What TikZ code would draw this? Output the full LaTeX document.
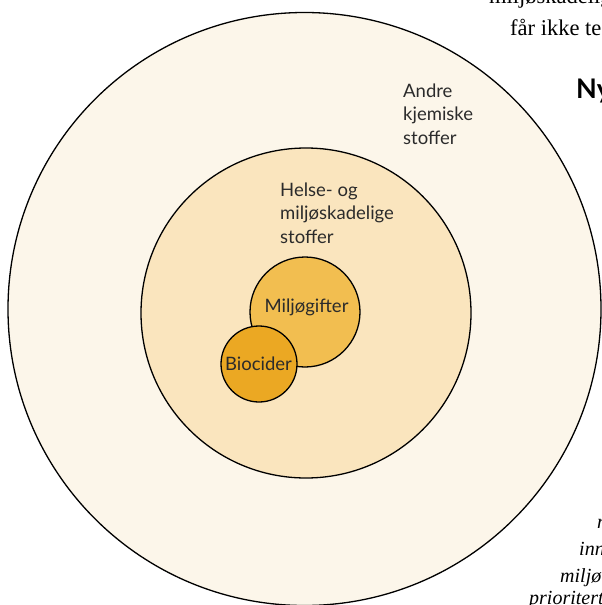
\documentclass[tikz,border=0pt]{standalone}
\usepackage{fontspec}
\setmainfont{Liberation Serif}
\newfontfamily\labelfont{Lato}
\newfontfamily\headfont{Lato}
\definecolor{outerfill}{HTML}{FCF6EA}
\definecolor{midfill}{HTML}{FAE5BE}
\definecolor{miljofill}{HTML}{F2BE50}
\definecolor{biofill}{HTML}{EBA823}
\definecolor{labelcol}{HTML}{2B2B2B}
\tikzset{
  ring/.style={draw=black, line width=1.3pt},
  lbl/.style={text=labelcol, font=\labelfont\fontsize{18.5}{23.5}\selectfont, inner sep=0pt},
  pagetext/.style={text=black, inner sep=0pt, anchor=base west, font=\fontsize{22.5}{25}\selectfont},
  pageital/.style={pagetext, font=\itshape\fontsize{20}{25}\selectfont}
}
\begin{document}
\begin{tikzpicture}[x=1pt,y=-1pt]
\useasboundingbox (0,0) rectangle (602,605);
\clip (0,0) rectangle (602,605);
\fill[white] (0,0) rectangle (602,605);
% circles
\draw[ring, fill=outerfill] (304.5,309) circle[radius=296.5];
\draw[ring, fill=midfill] (306,313) circle[radius=165];
\draw[ring, fill=miljofill] (305,312) circle[radius=55];
\draw[ring, fill=biofill] (259,364) circle[radius=38];
% labels
\node[lbl, anchor=base west, align=left] (andre) at (403,144) {Andre\\kjemiske\\stoffer};
\node[lbl, anchor=base west, align=left] (helse) at (280,243) {Helse- og\\miljøskadelige\\stoffer};
\node[lbl] (miljo) at (306.5,307) {Miljøgifter};
\node[lbl] (bio) at (258.5,363.5) {Biocider};
% surrounding page text (cropped)
\node[pagetext] (p1) at (489,3) {miljøskadelige};
\node[pagetext] (p2) at (510,35) {får ikke te};
\node[pagetext, font=\headfont\bfseries\fontsize{27}{30}\selectfont] (p3) at (576,98) {Ny};
\node[pageital] (p4) at (597,528) {n};
\node[pageital] (p5) at (579,555) {inn};
\node[pageital] (p6) at (560,582) {miljø};
\node[pageital] (p7) at (529,604) {prioritert};
\end{tikzpicture}
\end{document}
